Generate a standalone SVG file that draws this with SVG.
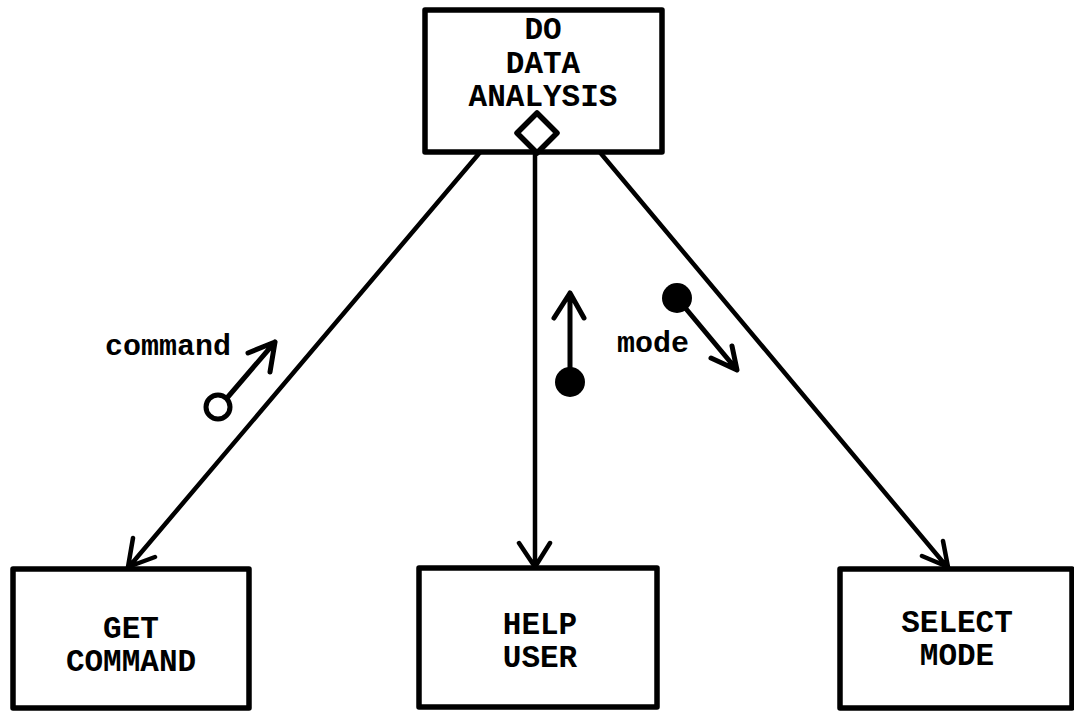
<svg xmlns="http://www.w3.org/2000/svg" width="1074" height="713" viewBox="0 0 1074 713">
  <style>
    .box { fill: #fff; stroke: #000; stroke-width: 5.5; stroke-linejoin: round; }
    .lbl { font-family: "Liberation Mono", "DejaVu Sans Mono", monospace; font-weight: bold; font-size: 31px; fill: #000; text-anchor: middle; }
    .data { font-family: "Liberation Mono", "DejaVu Sans Mono", monospace; font-weight: bold; font-size: 30px; fill: #000; }
    .wire { fill: none; stroke: #000; stroke-width: 4.5; stroke-linecap: round; stroke-linejoin: round; }
    .couple { fill: none; stroke: #000; stroke-width: 5; stroke-linecap: round; stroke-linejoin: round; }
  </style>
  <rect width="1074" height="713" fill="#fff"/>

  <!-- connectors from the controlling module to its subordinates -->
  <g id="connectors">
    <path class="wire" d="M482,150 L128,568 M133,538 L128,567 L155,557"/>
    <path class="wire" d="M535,152 L535,568 M519,543 L535,567 L550,543"/>
    <path class="wire" d="M598,150 L948,568 M943,541 L948,567 L922,556"/>
  </g>

  <!-- data couples -->
  <g id="couple-command">
    <circle cx="218" cy="407" r="12" fill="#fff" stroke="#000" stroke-width="5"/>
    <path class="couple" d="M227,398 L275,342 M248,353 L275,342 L270,372"/>
    <text class="data" x="105" y="355">command</text>
  </g>
  <g id="couple-help">
    <path class="couple" d="M570,382 L570,293 M554,318 L570,293 L584,318"/>
    <circle cx="570" cy="382" r="15" fill="#000"/>
  </g>
  <g id="couple-mode">
    <path class="couple" d="M677,298 L737,370 M711,358 L737,370 L732,346"/>
    <circle cx="677" cy="298" r="15" fill="#000"/>
    <text class="data" x="617" y="352">mode</text>
  </g>

  <!-- modules -->
  <g id="do-data-analysis">
    <rect class="box" x="425" y="10" width="237" height="142"/>
    <text class="lbl" x="543" y="39">DO</text>
    <text class="lbl" x="543" y="73">DATA</text>
    <text class="lbl" x="543" y="106">ANALYSIS</text>
    <polygon class="box" points="537,113 557,133 537,153 517,133"/>
  </g>
  <g id="get-command">
    <rect class="box" x="13" y="569" width="236" height="139"/>
    <text class="lbl" x="131" y="638">GET</text>
    <text class="lbl" x="131" y="671">COMMAND</text>
  </g>
  <g id="help-user">
    <rect class="box" x="419" y="568" width="238" height="139"/>
    <text class="lbl" x="540" y="634">HELP</text>
    <text class="lbl" x="540" y="667">USER</text>
  </g>
  <g id="select-mode">
    <rect class="box" x="840" y="569" width="232" height="139"/>
    <text class="lbl" x="957" y="632">SELECT</text>
    <text class="lbl" x="957" y="665">MODE</text>
  </g>
</svg>
